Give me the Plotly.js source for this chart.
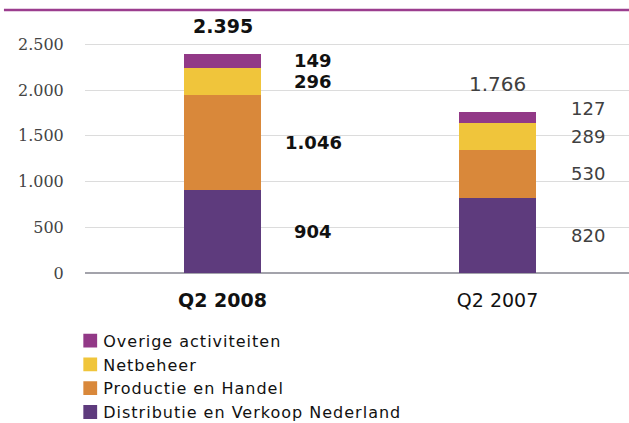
<!DOCTYPE html>
<html><head><meta charset="utf-8">
<script src="https://cdn.plot.ly/plotly-3.0.1.min.js"></script>
<style>html,body{margin:0;padding:0;background:#fff}#c{width:629px;height:423px}
.legendtext{letter-spacing:1px}
.legend .traces path{transform:translate(27px,0px) scale(1.15) !important}</style>
</head><body><div id="c"></div>
<script>
const categories = ['Q2 2008', 'Q2 2007'];
const seriesNames = ['Distributie en Verkoop Nederland', 'Productie en Handel', 'Netbeheer', 'Overige activiteiten'];
const distributie = [904, 820];
const productie = [1046, 530];
const netbeheer = [296, 289];
const overige = [149, 127];
const totals = [2395, 1766];
const yTickVals = [0, 500, 1000, 1500, 2000, 2500];
const yTickText = ['0', '500', '1.000', '1.500', '2.000', '2.500'];

const colors = ['#5E3B7D', '#D9883A', '#F0C53B', '#923987'];
const series = [distributie, productie, netbeheer, overige];
const fmt = v => v >= 1000 ? Math.floor(v/1000) + '.' + String(v % 1000).padStart(3, '0') : String(v);

const traces = series.map((vals, k) => ({
  type: 'bar', x: [0, 1], y: vals, name: seriesNames[k],
  marker: {color: colors[k], line: {width: 0}}, width: 0.28, hoverinfo: 'skip'
}));

const annotations = [];
const labelNudge = [[0, 0, 0, 0], [0, 0, 0, 9]];
for (let i = 0; i < categories.length; i++) {
  const bold = i === 0;
  const font = {family: 'DejaVu Sans', size: 18, color: bold ? '#111111' : '#404040'};
  let cum = 0;
  series.forEach((vals, k) => {
    const mid = cum + vals[i] / 2;
    cum += vals[i];
    annotations.push({x: i + 0.33, y: mid, xref: 'x', yref: 'y', showarrow: false,
      text: bold ? '<b>' + fmt(vals[i]) + '</b>' : fmt(vals[i]), font: font,
      yanchor: 'middle', xanchor: 'center', yshift: labelNudge[i][k]});
  });
  annotations.push({x: i, y: totals[i], xref: 'x', yref: 'y', showarrow: false,
    text: bold ? '<b>' + fmt(totals[i]) + '</b>' : fmt(totals[i]),
    font: {family: 'DejaVu Sans', size: bold ? 19 : 20, color: bold ? '#111111' : '#404040'},
    yanchor: 'middle', xanchor: 'center', yshift: 28});
}

const layout = {
  width: 629, height: 423,
  margin: {l: 85, r: 0, t: 17, b: 150, autoexpand: false},
  barmode: 'stack',
  paper_bgcolor: '#fff', plot_bgcolor: '#fff',
  showlegend: true,
  legend: {x: -0.04, y: -0.198, xanchor: 'left', yanchor: 'top',
    traceorder: 'reversed', font: {family: 'DejaVu Sans', size: 16, color: '#111'},
    tracegroupgap: 0, bgcolor: 'rgba(0,0,0,0)', borderwidth: 0},
  xaxis: {range: [-0.5, 1.478], tickvals: [0, 1],
    ticktext: ['<b>' + categories[0] + '</b>', categories[1]],
    tickfont: {family: 'DejaVu Sans', size: 19, color: '#111'},
    showgrid: false, zeroline: false, showline: false,
    ticks: 'outside', ticklen: 10, tickcolor: 'rgba(0,0,0,0)', fixedrange: true},
  yaxis: {range: [0, 2800], tickvals: yTickVals, ticktext: yTickText,
    tickfont: {family: 'DejaVu Serif', size: 16, color: '#444'},
    showgrid: true, gridcolor: '#dcdcdc', gridwidth: 1,
    zeroline: true, zerolinecolor: '#a3a3ab', zerolinewidth: 2,
    showline: false, ticks: 'outside', ticklen: 17, tickcolor: 'rgba(0,0,0,0)', fixedrange: true},
  annotations: annotations,
  shapes: [{type: 'line', xref: 'paper', yref: 'paper', x0: -0.149, x1: 1.01, y0: 1.027, y1: 1.027,
    line: {color: '#9B3D8E', width: 2.5}}]
};

Plotly.newPlot('c', traces, layout, {staticPlot: true, displayModeBar: false});
</script></body></html>
